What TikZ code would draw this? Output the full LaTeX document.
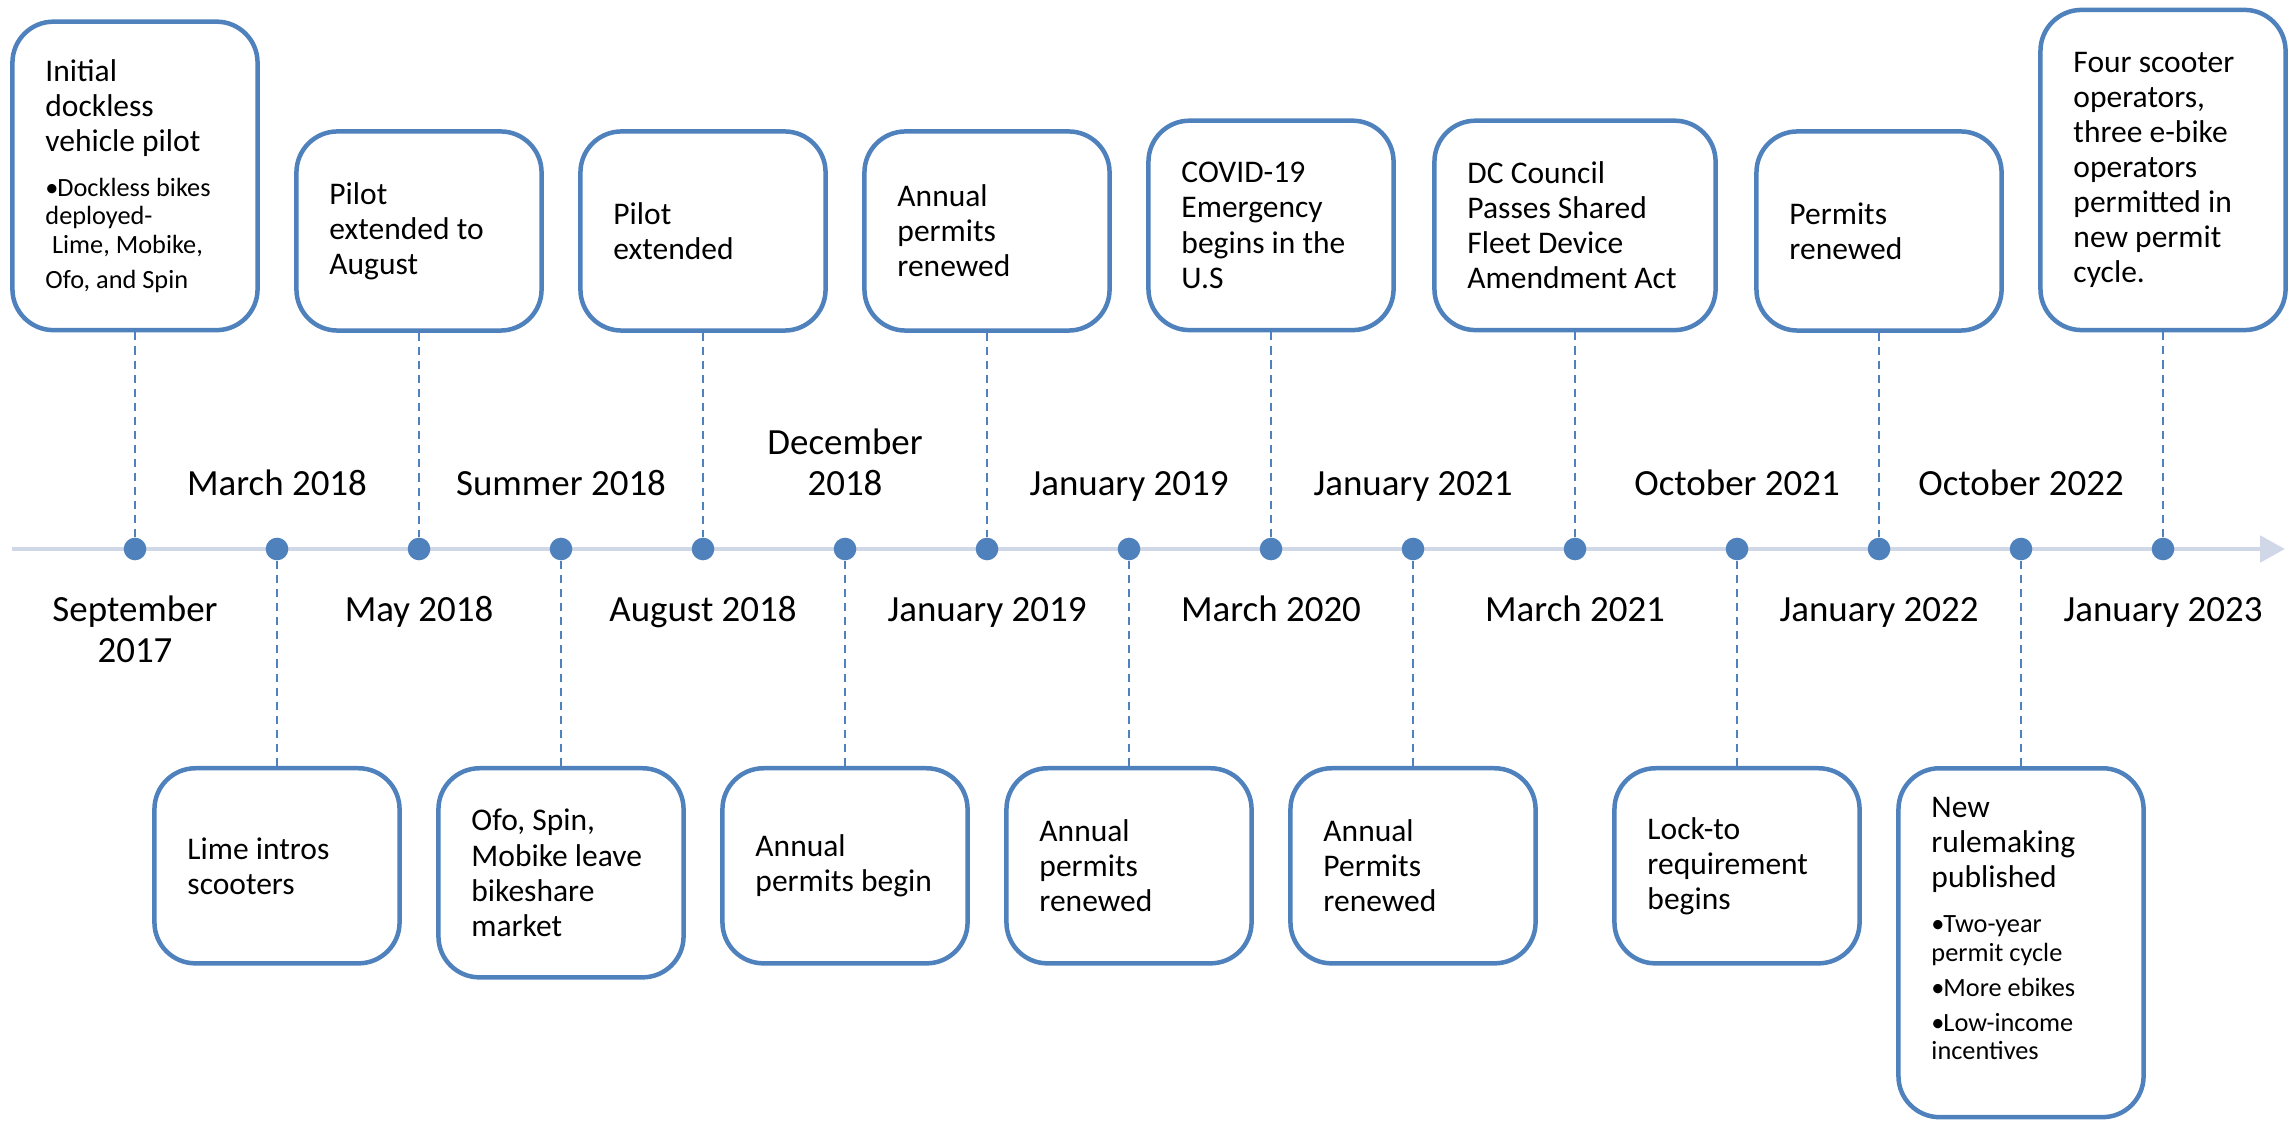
\documentclass[tikz,border=0pt]{standalone}
\usepackage{fontspec}
\setmainfont{Carlito}
\usetikzlibrary{arrows.meta}
\definecolor{eventblue}{RGB}{79,129,189}
\definecolor{axisblue}{RGB}{208,216,232}
\newcommand{\boxfont}{\fontsize{8.96pt}{9.96pt}\selectfont}
\newcommand{\datefont}{\fontsize{10.5pt}{11.7pt}\selectfont}
\newcommand{\listfont}{\fontsize{7.48pt}{8.1pt}\selectfont\parskip=1.85pt}
\newcommand{\bitem}[1]{\par\hangindent=3.3pt\hangafter=1\noindent\makebox[3.4pt][l]{\textbullet}#1}
\begin{document}
\begin{tikzpicture}[x=0.01cm,y=-0.01cm,
	eventbox/.style={draw=eventblue,line width=1.28pt,rounded corners=0.41cm,fill=white,
		inner xsep=0.33cm,inner ysep=0pt,text width=1.79cm,align=flush left,font=\boxfont,
		execute at begin node={\hyphenpenalty=10000\exhyphenpenalty=10000}},
	datedot/.style={circle,fill=eventblue,inner sep=0pt,minimum size=0.226cm},
	datelabel/.style={font=\datefont,align=center,inner sep=0pt},
	stem/.style={eventblue,line width=0.57pt,dash pattern=on 2.3pt off 1.7pt}]
	\useasboundingbox (0,0) rectangle (2292,1125);
	% time axis
	\coordinate (axstart) at (12,549);
	\coordinate (axend) at (2285,549);
	\draw [axisblue,line width=1.42pt,-{Triangle[length=0.25cm,width=0.26cm]}] (axstart)--(axend);
	\foreach \x [count=\i] in {135,277,419,561,703,845,987,1129,1271,1413,1575,1737,1879,2021,2163}
		\node [datedot] (d\i) at (\x,549) {};
	% events above the axis
	\node [eventbox,minimum height=3.083cm] (t1) at (135,175.9)
		{Initial\\dockless\\vehicle~pilot\par\vspace{2.75pt}\listfont
		\bitem{Dockless~bikes\\deployed-\\\hspace*{1.9pt}Lime,~Mobike,\\Ofo,~and~Spin}};
	\node [eventbox,minimum height=1.99cm] (t2) at (419,231) {Pilot\\extended~to\\August};
	\node [eventbox,minimum height=1.99cm] (t3) at (703,231) {Pilot\\extended};
	\node [eventbox,minimum height=1.99cm] (t4) at (987,231) {Annual\\permits\\renewed};
	\node [eventbox,minimum height=2.093cm] (t5) at (1271,225.4) {COVID-19\\Emergency\\begins~in~the\\U.S};
	\node [eventbox,minimum height=2.093cm,text width=2.15cm] (t6) at (1575,225.4)
		{DC~Council\\Passes~Shared\\Fleet~Device\\Amendment~Act};
	\node [eventbox,minimum height=1.99cm] (t7) at (1879,231) {Permits\\renewed};
	\node [eventbox,minimum height=3.2cm] (t8) at (2163,170)
		{Four~scooter\\operators,\\three~e-bike\\operators\\permitted~in\\new~permit\\cycle.};
	% events below the axis
	\node [eventbox,minimum height=1.95cm] (b1) at (277,865.8) {Lime~intros\\scooters};
	\node [eventbox,minimum height=2.09cm] (b2) at (561,872.8) {Ofo,~Spin,\\Mobike~leave\\bikeshare\\market};
	\node [eventbox,minimum height=1.95cm] (b3) at (845,865.8) {Annual\\permits~begin};
	\node [eventbox,minimum height=1.95cm] (b4) at (1129,865.8) {Annual\\permits\\renewed};
	\node [eventbox,minimum height=1.95cm] (b5) at (1413,865.8) {Annual\\Permits\\renewed};
	\node [eventbox,minimum height=1.95cm] (b6) at (1737,865.8) {Lock-to\\requirement\\begins};
	\node [eventbox,minimum height=3.487cm] (b7) at (2021,942.7)
		{New\\rulemaking\\published\par\vspace{2.75pt}\listfont
		\bitem{Two-year\\permit~cycle}\bitem{More~ebikes}\bitem{Low-income\\incentives}
		\par\vskip0.28cm\hrule height0pt};
	% dashed stems
	\draw [stem] (t1)--(d1);
	\draw [stem] (t2)--(d3);
	\draw [stem] (t3)--(d5);
	\draw [stem] (t4)--(d7);
	\draw [stem] (t5)--(d9);
	\draw [stem] (t6)--(d11);
	\draw [stem] (t7)--(d13);
	\draw [stem] (t8)--(d15);
	\draw [stem] (d2)--(b1);
	\draw [stem] (d4)--(b2);
	\draw [stem] (d6)--(b3);
	\draw [stem] (d8)--(b4);
	\draw [stem] (d10)--(b5);
	\draw [stem] (d12)--(b6);
	\draw [stem] (d14)--(b7);
	% dates
	\node [datelabel] (l1) at (135,629.2) {September\\2017};
	\node [datelabel,anchor=base] (l2) at (277,496) {March 2018};
	\node [datelabel,anchor=base] (l3) at (419,621.7) {May 2018};
	\node [datelabel,anchor=base] (l4) at (561,496) {Summer 2018};
	\node [datelabel,anchor=base] (l5) at (703,621.7) {August 2018};
	\node [datelabel] (l6) at (845,462.5) {December\\2018};
	\node [datelabel,anchor=base] (l7) at (987,621.7) {January 2019};
	\node [datelabel,anchor=base] (l8) at (1129,496) {January 2019};
	\node [datelabel,anchor=base] (l9) at (1271,621.7) {March 2020};
	\node [datelabel,anchor=base] (l10) at (1413,496) {January 2021};
	\node [datelabel,anchor=base] (l11) at (1575,621.7) {March 2021};
	\node [datelabel,anchor=base] (l12) at (1737,496) {October 2021};
	\node [datelabel,anchor=base] (l13) at (1879,621.7) {January 2022};
	\node [datelabel,anchor=base] (l14) at (2021,496) {October 2022};
	\node [datelabel,anchor=base] (l15) at (2163,621.7) {January 2023};
\end{tikzpicture}
\end{document}
